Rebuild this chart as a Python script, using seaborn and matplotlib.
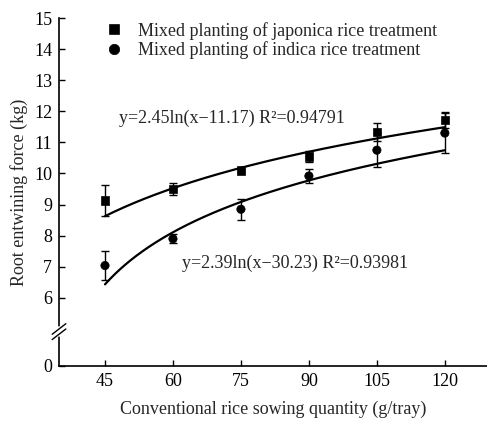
import numpy as np
import pandas as pd
import matplotlib
matplotlib.use("Agg")
import matplotlib.pyplot as plt
import seaborn as sns

# ---- data ----
sowing = [45, 60, 75, 90, 105, 120]
japonica_mean = [9.13, 9.50, 10.10, 10.55, 11.33, 11.72]
japonica_err = [0.50, 0.18, 0.06, 0.17, 0.30, 0.25]
indica_mean = [7.04, 7.90, 8.85, 9.92, 10.75, 11.30]
indica_err = [0.47, 0.15, 0.33, 0.24, 0.55, 0.63]
# fitted model y = a*ln(x - c)
fit_a = [2.45, 2.39]
fit_c = [11.17, 30.23]
fit_r2 = ["0.94791", "0.93981"]
series_names = ["Mixed planting of japonica rice treatment",
                "Mixed planting of indica rice treatment"]
x_ticks = [45, 60, 75, 90, 105, 120]
y_ticks = [6, 7, 8, 9, 10, 11, 12, 13, 14, 15]

sns.set_theme(style="ticks")
plt.rcParams['font.family'] = ['Liberation Serif', 'DejaVu Serif']
FS = 13

fig = plt.figure(figsize=(4.87, 4.21), dpi=100)
ax = fig.add_axes([59/487, 1-366/421, 1-59/487, (366-18)/421])

zero_pos = 3.81  # display position of the "0" tick below the axis break

df = pd.DataFrame({
    "x": sowing * 2,
    "y": japonica_mean + indica_mean,
    "s": [series_names[0]] * 6 + [series_names[1]] * 6,
})

# fitted curves
for a, c in zip(fit_a, fit_c):
    xs = np.linspace(sowing[0], sowing[-1], 200)
    sns.lineplot(x=xs, y=a * np.log(xs - c), ax=ax, color="black", lw=1.6)

# error bars
for m, e in [(japonica_mean, japonica_err), (indica_mean, indica_err)]:
    ax.errorbar(sowing, m, yerr=e, fmt="none", ecolor="black", elinewidth=1.0,
                capsize=2.6, capthick=1.0, zorder=3)

sns.scatterplot(data=df, x="x", y="y", style="s", markers=["s", "o"],
                color="black", s=36, edgecolor="black", ax=ax, zorder=4,
                legend=True)

leg = ax.legend(loc="upper left", bbox_to_anchor=(0.078, 1.01), frameon=False,
                fontsize=FS, handletextpad=0.5, labelspacing=0.1,
                borderaxespad=0, markerscale=1.25, handlelength=1.6)

for a, c, r2, (px, py) in zip(fit_a, fit_c, fit_r2, [(119, 118), (182, 263)]):
    ax.annotate(f"y={a:.2f}ln(x\u2212{c:.2f}) R\u00b2={r2}",
                xy=(px/487, 1-py/421), xycoords="figure fraction",
                fontsize=FS, va="center", ha="left")

ax.set_xlim(34.85, 129.3)
ax.set_ylim(zero_pos, 15)
ax.set_xticks(x_ticks)
ax.set_xticklabels([str(t) for t in x_ticks], fontsize=FS)
ax.set_yticks([zero_pos] + y_ticks)
ax.set_yticklabels(["0"] + [str(t) for t in y_ticks], fontsize=FS)
ax.tick_params(direction="in", length=4, width=1, colors="black", pad=5)
ax.set_xlabel("Conventional rice sowing quantity (g/tray)", fontsize=FS, labelpad=8)
ax.set_ylabel("Root entwining force (kg)", fontsize=FS, labelpad=4)
for sp in ["top", "right"]:
    ax.spines[sp].set_visible(False)
for sp in ["left", "bottom"]:
    ax.spines[sp].set_linewidth(1.2)
    ax.spines[sp].set_color("black")

# axis break marks
y1, y2 = 4.83, 5.0
ax.plot([0, 0], [y1 + 0.01, y2 - 0.01], transform=ax.get_yaxis_transform(),
        color="white", lw=4, clip_on=False, zorder=5)
for yy in [y1, y2]:
    ax.plot([-0.016, 0.016], [yy - 0.17, yy + 0.17], transform=ax.get_yaxis_transform(),
            color="black", lw=1.0, clip_on=False, zorder=6)

fig.savefig("out.png", dpi=100)
